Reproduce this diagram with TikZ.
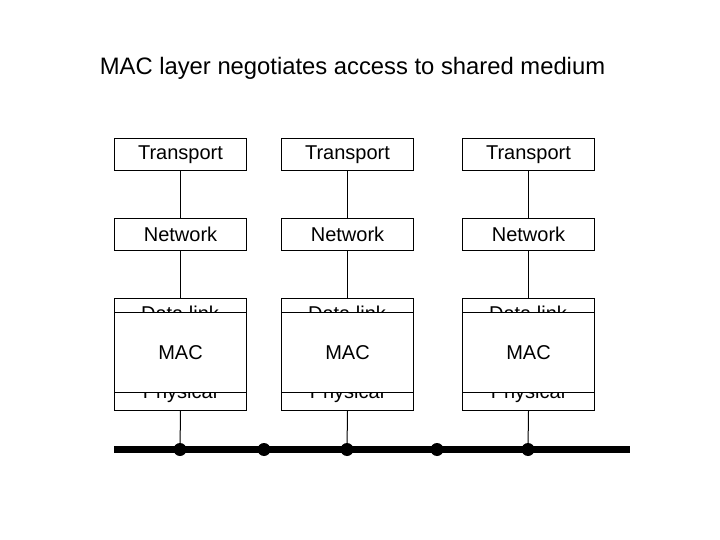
\documentclass[tikz,border=0pt]{standalone}
\usepackage{fontspec}
\setmainfont{Liberation Sans}
\begin{document}
\begin{tikzpicture}[x=1pt,y=-1pt,
  layerbox/.style={draw=black,line width=1pt,minimum width=132pt,minimum height=32pt,inner sep=0pt,font=\fontsize{20}{24}\selectfont,anchor=north west},
  plainbox/.style={draw=black,line width=1pt,inner sep=0pt,anchor=north west},
  link/.style={draw=black,line width=1pt},
  tap/.style={circle,fill=black,inner sep=0pt,minimum size=13pt}]
\useasboundingbox[fill=white] (0,0) rectangle (720,540);
\node[font=\fontsize{23.8}{28}\selectfont] (title) at (352.5,68) {MAC layer negotiates access to shared medium};
\foreach \i/\x in {1/114,2/281,3/462}{
  \pgfmathtruncatemacro{\cx}{\x+66}
  \node[layerbox] (tr\i) at (\x,138) {Transport};
  \node[layerbox] (nw\i) at (\x,218) {Network};
  \node[plainbox,minimum width=132pt,minimum height=28pt] (dl\i) at (\x,298) {};
  \node[font=\fontsize{20}{24}\selectfont] (dlt\i) at (\cx,313) {Data link};
  \node[plainbox,minimum width=132pt,minimum height=36pt] (ph\i) at (\x,374) {};
  \node[font=\fontsize{20}{24}\selectfont] (pht\i) at (\cx,393.5) {Physical};
  \node[layerbox,fill=white,minimum height=80pt] (mac\i) at (\x,312) {MAC};
  \draw[link] (tr\i.south) -- (nw\i.north);
  \draw[link] (nw\i.south) -- (dl\i.north);
}
\coordinate (busL) at (114,449.5);
\coordinate (busR) at (630,449.5);
\draw[line width=6.5pt] (busL) -- (busR);
\node[tap] (t1) at (180,449.5) {};
\node[tap] (t2) at (264,449.5) {};
\node[tap] (t3) at (347,449.5) {};
\node[tap] (t4) at (437,449.5) {};
\node[tap] (t5) at (528,449.5) {};
\draw[link] (ph1.south) -- (t1.center);
\draw[link] (ph2.south) -- (t3.center);
\draw[link] (ph3.south) -- (t5.center);
\end{tikzpicture}
\end{document}
